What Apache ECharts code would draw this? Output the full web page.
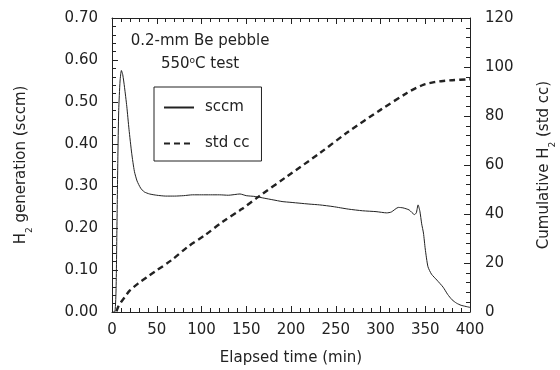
<!DOCTYPE html>
<html>
<head>
<meta charset="utf-8">
<script src="https://cdn.jsdelivr.net/npm/echarts@6/dist/echarts.min.js"></script>
<style>
  html, body { margin: 0; padding: 0; background: #fff; }
  #chart { width: 560px; height: 370px; }
</style>
</head>
<body>
<div id="chart"></div>
<script>
// H2 generation rate (sccm)
const sccmTime = [0, 3, 4.5, 5.5, 6.5, 7.5, 9, 10.5, 12, 14, 16.5, 19, 22, 25, 28, 32, 36, 42, 50, 60, 70, 80, 90, 100,
  110, 120, 130, 143, 150, 160, 170, 180, 190, 200, 210, 220, 232, 247, 264, 280, 295, 307, 312, 320, 325, 332,
  338, 340, 342, 344, 346, 348, 350, 353, 357, 363, 370, 375, 380, 385, 390, 400];
const sccmValues = [0, 0, 0.05, 0.2, 0.36, 0.48, 0.55, 0.575, 0.565, 0.535, 0.49, 0.435, 0.378, 0.335, 0.312, 0.295, 0.286, 0.281, 0.278, 0.276, 0.276, 0.277, 0.279, 0.279,
  0.279, 0.279, 0.278, 0.281, 0.277, 0.275, 0.271, 0.267, 0.263, 0.261, 0.259, 0.257, 0.255, 0.251, 0.245, 0.241, 0.239, 0.236, 0.238, 0.249, 0.248, 0.243,
  0.232, 0.236, 0.255, 0.24, 0.21, 0.188, 0.15, 0.108, 0.09, 0.076, 0.059, 0.042, 0.029, 0.021, 0.016, 0.011];

// cumulative H2 (std cc)
const cumTime = [5, 7, 10, 14.5, 20, 29.4, 40, 48, 66.6, 85, 104, 124, 145, 163.5, 195, 232, 264, 300, 330, 340, 345, 350, 360, 370, 380, 400];
const cumValues = [0.3, 2.2, 4, 6.2, 8.8, 11.7, 14.5, 16.5, 21.2, 26.7, 31.4, 36.9, 42, 47, 55.2, 64.8, 73.6, 82.5, 89.5, 91.5, 92.3, 93, 93.8, 94.3, 94.6, 95];

const xTicks = [0, 400, 50];
const leftTicks = [0, 0.7, 0.1];
const rightTicks = [0, 120, 20];

const ink = '#222';
const font = 'DejaVu Sans, sans-serif';
const fs = 15;

const chart = echarts.init(document.getElementById('chart'));

function axisBase() {
  return {
    type: 'value',
    axisLine: { show: true, onZero: false, lineStyle: { color: ink, width: 1 } },
    axisTick: { show: true, inside: true, length: 6, lineStyle: { color: ink } },
    minorTick: { show: true, splitNumber: 5, length: 4, lineStyle: { color: ink } },
    splitLine: { show: false },
    axisLabel: { color: ink, fontSize: fs, fontFamily: font },
    nameTextStyle: { color: ink, fontSize: fs, fontFamily: font }
  };
}

const subRich = {
  sub: { fontSize: 9, fontFamily: font, color: ink, verticalAlign: 'bottom', padding: [0, 0, -5, 0] }
};

const option = {
  animation: false,
  grid: { left: 112, right: 90, top: 18, bottom: 58, containLabel: false, outerBoundsMode: 'none' },
  xAxis: [
    Object.assign(axisBase(), {
      position: 'bottom', min: xTicks[0], max: xTicks[1], interval: xTicks[2],
      name: 'Elapsed time (min)', nameLocation: 'middle', nameGap: 39,
      axisLabel: { color: ink, fontSize: fs, fontFamily: font, margin: 11 }
    }),
    Object.assign(axisBase(), {
      position: 'top', min: xTicks[0], max: xTicks[1], interval: xTicks[2],
      axisLabel: { show: false }
    })
  ],
  yAxis: [
    Object.assign(axisBase(), {
      position: 'left', min: leftTicks[0], max: leftTicks[1], interval: leftTicks[2],
      name: 'H{sub|2} generation (sccm)', nameLocation: 'middle', nameGap: 83,
      nameTextStyle: { color: ink, fontSize: fs, fontFamily: font, rich: subRich },
      axisLabel: { color: ink, fontSize: fs, fontFamily: font, margin: 14, formatter: v => v.toFixed(2) }
    }),
    Object.assign(axisBase(), {
      position: 'right', min: rightTicks[0], max: rightTicks[1], interval: rightTicks[2],
      name: 'Cumulative H{sub|2} (std cc)', nameLocation: 'middle', nameGap: 67,
      nameTextStyle: { color: ink, fontSize: fs, fontFamily: font, rich: subRich },
      axisLabel: { color: ink, fontSize: fs, fontFamily: font, margin: 15 }
    })
  ],
  legend: {
    orient: 'vertical',
    left: 154, top: 87,
    padding: [13, 12, 10, 9],
    itemGap: 21,
    itemWidth: 30, itemHeight: 14,
    borderColor: ink, borderWidth: 1, borderRadius: 0,
    itemStyle: { opacity: 0 },
    textStyle: { color: ink, fontSize: fs, fontFamily: font, padding: [0, 0, 0, 6] },
    data: ['sccm', 'std cc']
  },
  graphic: [
    {
      type: 'text', x: 200, y: 41,
      style: { text: '0.2-mm Be pebble', fill: ink, fontSize: fs, fontFamily: font, align: 'center', verticalAlign: 'middle' }
    },
    {
      type: 'text', x: 200, y: 64,
      style: {
        text: '550{sup|o}C test', fill: ink, fontSize: fs, fontFamily: font, align: 'center', verticalAlign: 'middle',
        rich: { sup: { fontSize: 9, fontFamily: font, fill: ink, verticalAlign: 'top', padding: [0, 0, 5, 0] } }
      }
    }
  ],
  series: [
    {
      name: 'sccm', type: 'line', xAxisIndex: 0, yAxisIndex: 0,
      data: sccmTime.map((t, i) => [t, sccmValues[i]]),
      showSymbol: false, smooth: 0.2,
      lineStyle: { color: ink, width: 1 }, itemStyle: { color: ink }
    },
    {
      name: 'std cc', type: 'line', xAxisIndex: 0, yAxisIndex: 1,
      data: cumTime.map((t, i) => [t, cumValues[i]]),
      showSymbol: false, smooth: 0.3,
      lineStyle: { color: ink, width: 2.4, type: [6, 4] }, itemStyle: { color: ink }
    }
  ]
};

chart.setOption(option);
</script>
</body>
</html>
